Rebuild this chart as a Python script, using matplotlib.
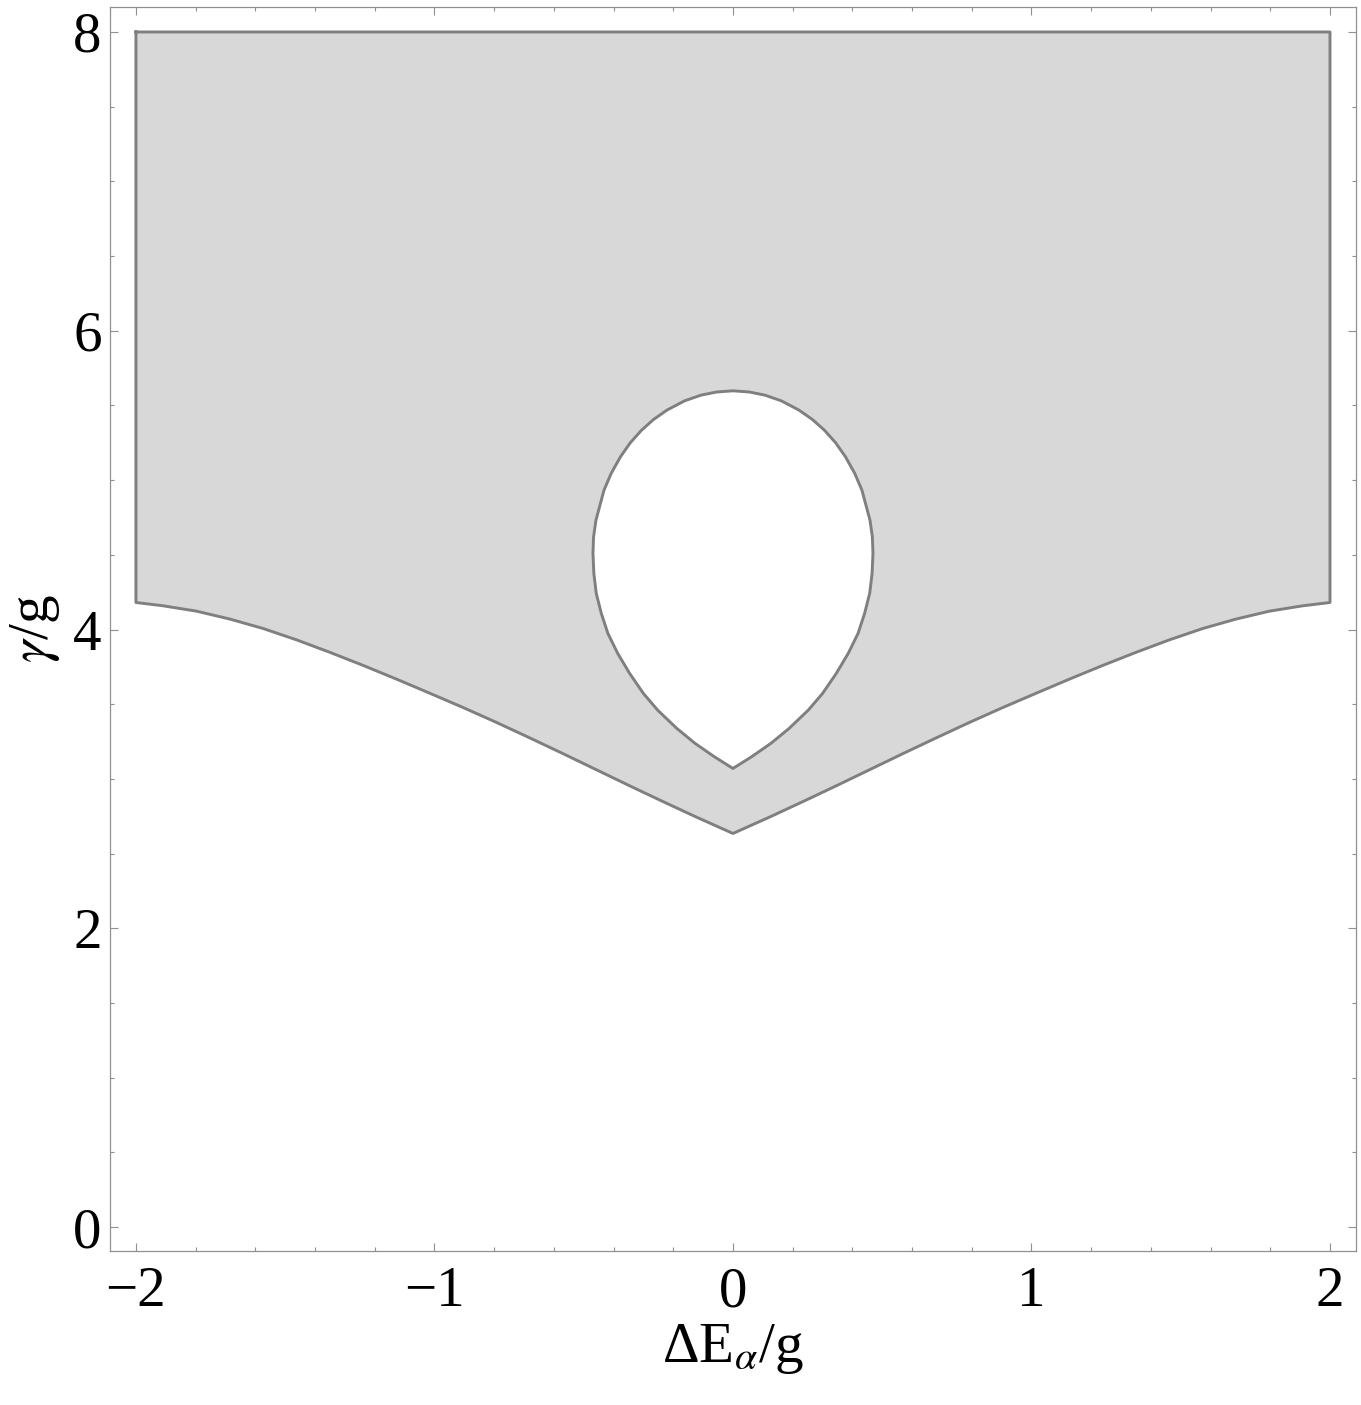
import matplotlib
matplotlib.use("Agg")
import matplotlib.pyplot as plt
from matplotlib.ticker import MultipleLocator

plt.rcParams['font.family'] = ['Liberation Serif', 'DejaVu Serif']
plt.rcParams['mathtext.fontset'] = 'stix'

# lower boundary of the shaded region (left half, mirrored for the right half)
bord_x = [-2.0, -1.909, -1.797, -1.685, -1.574, -1.462, -1.351, -1.239, -1.127,
          -1.016, -0.904, -0.793, -0.681, -0.570, -0.458, -0.346, -0.235, -0.123, 0.0]
bord_y = [4.181, 4.159, 4.123, 4.070, 4.007, 3.931, 3.848, 3.760, 3.668,
          3.574, 3.478, 3.379, 3.275, 3.170, 3.062, 2.954, 2.849, 2.745, 2.635]
haut = 8.0

# trou (teardrop), right half from top to bottom cusp
trou_x = [0.0, 0.055, 0.107, 0.162, 0.221, 0.266, 0.306, 0.344, 0.377, 0.408,
          0.432, 0.459, 0.467, 0.469, 0.466, 0.458, 0.441, 0.419, 0.386, 0.346,
          0.300, 0.252, 0.188, 0.127, 0.062, 0.0]
trou_y = [5.598, 5.590, 5.569, 5.531, 5.469, 5.406, 5.335, 5.250, 5.156, 5.045,
          4.933, 4.732, 4.620, 4.509, 4.375, 4.242, 4.108, 3.974, 3.840, 3.706,
          3.572, 3.460, 3.338, 3.238, 3.148, 3.070]

gris = '#d8d8d8'
trait = '#7f7f7f'

# contour complet de la zone grise
bas_x = bord_x + [-x for x in reversed(bord_x[:-1])]
bas_y = bord_y + list(reversed(bord_y[:-1]))
zone_x = [bas_x[0]] + bas_x + [bas_x[-1]]
zone_y = [haut] + bas_y + [haut]

tx = trou_x + [-x for x in reversed(trou_x[1:-1])]
ty = trou_y + list(reversed(trou_y[1:-1]))

fig = plt.figure(figsize=(13.61, 14.05), dpi=100)
ax = fig.add_axes([0.0808, 0.1096, 0.9155, 0.8854])

ax.fill(zone_x, zone_y, color=gris, zorder=1)
ax.plot(zone_x + [zone_x[0]], zone_y + [zone_y[0]], color=trait, linewidth=2.1,
        solid_joinstyle='round', zorder=3)
ax.fill(tx, ty, facecolor='white', edgecolor=trait, linewidth=2.1,
        joinstyle='round', zorder=2)

ax.set_xlim(-2.087, 2.087)
ax.set_ylim(-0.16, 8.167)

ax.xaxis.set_major_locator(MultipleLocator(1))
ax.xaxis.set_minor_locator(MultipleLocator(0.2))
ax.yaxis.set_major_locator(MultipleLocator(2))
ax.yaxis.set_minor_locator(MultipleLocator(0.5))

for s in ax.spines.values():
    s.set_color('#909090')
    s.set_linewidth(0.9)

ax.tick_params(which='both', direction='in', top=True, right=True,
               color='#909090', width=0.8, labelsize=41)
ax.tick_params(which='major', length=6)
ax.tick_params(which='minor', length=3)
ax.tick_params(axis='x', which='major', pad=11)
ax.tick_params(axis='y', which='major', pad=6)

ax.set_xlabel(r'ΔE$_\alpha$/g', fontsize=41, labelpad=3)
ax.set_ylabel(r'$\gamma$/g', fontsize=41, labelpad=8)

fig.savefig('out.png', dpi=100)
